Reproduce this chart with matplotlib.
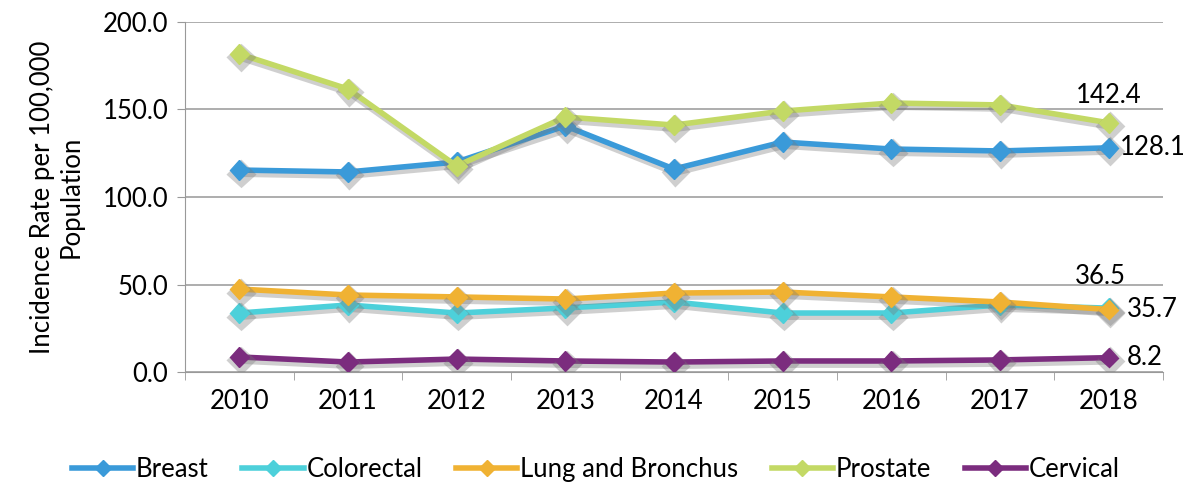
import matplotlib.pyplot as plt
import matplotlib.patheffects as pe
from matplotlib.lines import Line2D

years = ['2010', '2011', '2012', '2013', '2014', '2015', '2016', '2017', '2018']
breast = [115.4, 114.3, 120.0, 140.6, 116.0, 131.4, 127.4, 126.3, 128.1]
colorectal = [33.7, 38.3, 33.7, 36.6, 40.0, 33.7, 33.7, 38.3, 36.5]
lung = [47.4, 44.0, 42.9, 41.7, 45.1, 45.7, 42.9, 40.0, 35.7]
prostate = [181.7, 161.7, 117.7, 145.7, 141.1, 149.1, 153.7, 152.6, 142.4]
cervical = [8.6, 5.7, 7.4, 6.3, 5.7, 6.3, 6.3, 6.9, 8.2]

series = [
    ('Breast', breast, '#3a9ad9'),
    ('Colorectal', colorectal, '#4dd0da'),
    ('Lung and Bronchus', lung, '#f0b233'),
    ('Prostate', prostate, '#c3d965'),
    ('Cervical', cervical, '#7b2c7e'),
]

plt.rcParams['font.family'] = ['Lato', 'DejaVu Sans']
fs = 18.5

fig = plt.figure(figsize=(11.96, 4.82), dpi=100)
ax = fig.add_axes([0.1547, 0.2282, 0.8177, 0.7262])

x = list(range(len(years)))
shadow = [pe.SimpleLineShadow(offset=(1, -2.5), shadow_color='#777777', alpha=0.35, linewidth=5),
          pe.Normal()]
handles = []
for name, vals, color in series:
    ax.plot(x, vals, color=color, linewidth=4, marker='D', markersize=10,
            path_effects=shadow, zorder=3)
    handles.append(Line2D([], [], color=color, linewidth=4, marker='D', markersize=8,
                          label=name))

# end labels
ax.annotate('142.4', (8, prostate[-1]), xytext=(0, 11), textcoords='offset points',
            ha='center', va='bottom', fontsize=fs)
ax.annotate('128.1', (8, breast[-1]), xytext=(8, 0), textcoords='offset points',
            ha='left', va='center', fontsize=fs)
ax.annotate('36.5', (8, colorectal[-1]), xytext=(-6, 14), textcoords='offset points',
            ha='center', va='bottom', fontsize=fs)
ax.annotate('35.7', (8, lung[-1]), xytext=(13, 0), textcoords='offset points',
            ha='left', va='center', fontsize=fs)
ax.annotate('8.2', (8, cervical[-1]), xytext=(13, 0), textcoords='offset points',
            ha='left', va='center', fontsize=fs)

ax.set_xlim(-0.5, 8.5)
ax.set_ylim(0, 200)
ax.set_yticks([0, 50, 100, 150, 200])
ax.set_yticklabels(['%.1f' % v for v in [0, 50, 100, 150, 200]], fontsize=fs)
ax.set_xticks(x)
ax.set_xticklabels(years, fontsize=fs)
ax.set_xticks([i + 0.5 for i in range(-1, 9)], minor=True)
ax.tick_params(axis='x', which='major', length=0, pad=12)
ax.tick_params(axis='x', which='minor', length=6, color='#999999')
ax.tick_params(axis='y', length=6, color='#999999', pad=6)
ax.grid(axis='y', color='#a0a0a0', linewidth=1.2)
for s in ['top', 'right']:
    ax.spines[s].set_visible(False)
ax.spines['left'].set_color('#999999')
ax.spines['bottom'].set_color('#999999')
ax.set_ylabel('Incidence Rate per 100,000\nPopulation', fontsize=fs, labelpad=14,
              linespacing=1.15)

ax.legend(handles=handles, loc='lower center', bbox_to_anchor=(0.42, -0.38), ncol=5,
          frameon=False, fontsize=fs, handlelength=2.4, columnspacing=1.3,
          handletextpad=0.1)

fig.savefig('out.png', dpi=100)
